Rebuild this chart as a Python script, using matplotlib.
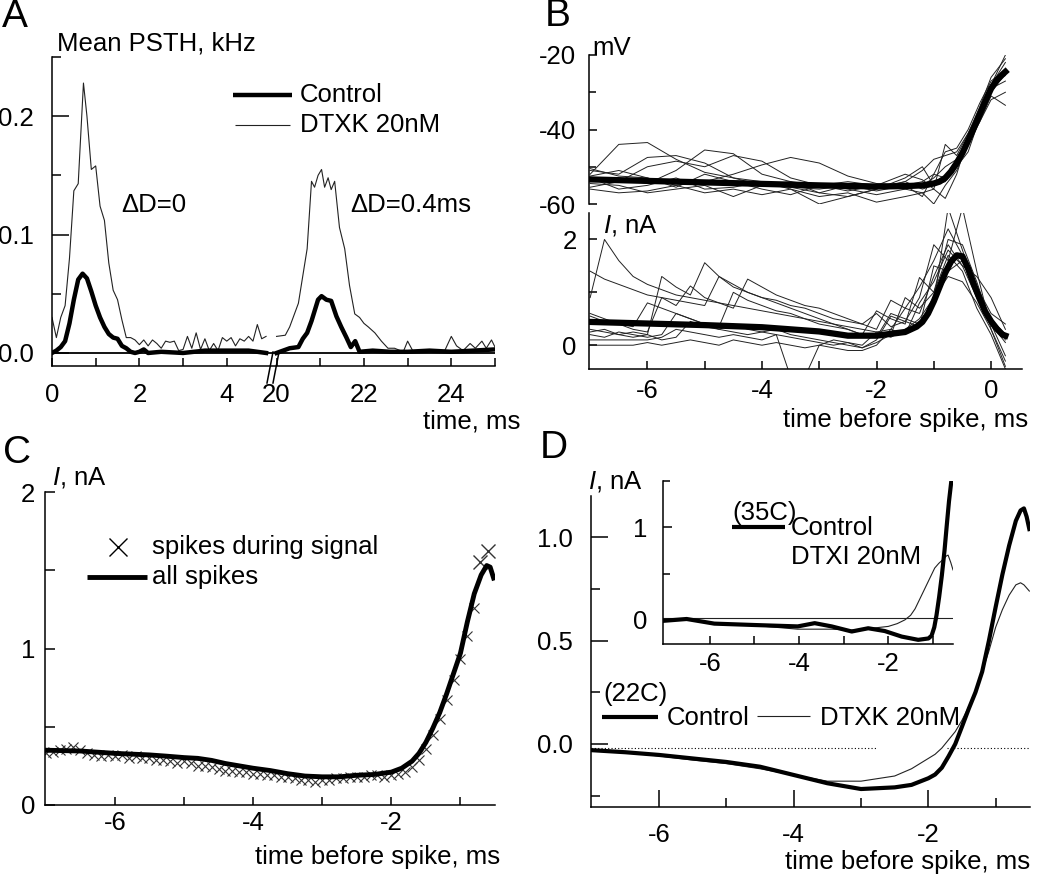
import numpy as np
import matplotlib.pyplot as plt
from matplotlib.lines import Line2D

plt.rcParams['font.family'] = ['Liberation Sans', 'DejaVu Sans']
plt.rcParams['font.size'] = 18.5
plt.rcParams['mathtext.fontset'] = 'custom'
plt.rcParams['mathtext.it'] = 'Liberation Sans:italic'
plt.rcParams['mathtext.rm'] = 'Liberation Sans'
plt.rcParams['axes.linewidth'] = 1.1

# ---------------- data ----------------
# A: mean PSTH (kHz); two time windows, 0-5 ms and 20-25 ms
a_t1 = [0.0, 0.1, 0.2, 0.3, 0.4, 0.5, 0.6, 0.72, 0.8, 0.9, 1.0, 1.1, 1.2, 1.3, 1.4, 1.5, 1.6, 1.7,
        1.8, 1.9, 2.0, 2.1, 2.2, 2.3, 2.4, 2.5, 2.6, 2.7, 2.8, 2.9, 3.0, 3.1, 3.2, 3.3, 3.4, 3.5,
        3.6, 3.7, 3.8, 3.9, 4.0, 4.1, 4.2, 4.3, 4.4, 4.5, 4.6, 4.7, 4.8, 4.9]
a_dtx1 = [0.03, 0.013, 0.03, 0.04, 0.08, 0.137, 0.143, 0.228, 0.2, 0.155, 0.158, 0.124, 0.112, 0.076,
          0.053, 0.045, 0.028, 0.013, 0.013, 0.011, 0.007, 0.011, 0.006, 0.011, 0.008, 0.004, 0.01,
          0.009, 0.01, 0.002, 0.003, 0.014, 0.004, 0.017, 0.003, 0.012, 0.002, 0.008, 0.002, 0.013,
          0.01, 0.013, 0.006, 0.012, 0.01, 0.014, 0.01, 0.024, 0.012, 0.014]
a_tc1 = [0.0, 0.1, 0.2, 0.3, 0.4, 0.5, 0.6, 0.7, 0.8, 0.9, 1.0, 1.1, 1.2, 1.3, 1.4, 1.5, 1.6, 1.7,
         1.8, 1.9, 2.0, 2.1, 2.2, 2.5, 3.0, 3.5, 4.0, 4.5, 4.9]
a_ctrl1 = [0.0, 0.002, 0.005, 0.01, 0.025, 0.045, 0.062, 0.067, 0.063, 0.052, 0.04, 0.03, 0.022,
           0.016, 0.013, 0.012, 0.006, 0.004, 0.001, 0.0, 0.001, 0.003, 0.0, 0.001, 0.0, 0.002,
           0.002, 0.002, 0.0]
a_t2 = [20.0, 20.2, 20.3, 20.5, 20.6, 20.7, 20.8, 20.87, 20.95, 21.03, 21.1, 21.18, 21.25, 21.33,
        21.44, 21.56, 21.67, 21.79, 21.9, 22.0, 22.1, 22.25, 22.4, 22.55, 22.7, 22.9, 23.0, 23.13,
        23.35, 23.6, 23.85, 24.0, 24.12, 24.27, 24.43, 24.55, 24.7, 24.8, 24.92, 25.0]
a_dtx2 = [0.014, 0.015, 0.022, 0.042, 0.065, 0.088, 0.145, 0.14, 0.15, 0.155, 0.14, 0.148, 0.138,
          0.145, 0.106, 0.088, 0.057, 0.033, 0.03, 0.025, 0.022, 0.017, 0.01, 0.004, 0.004, 0.001,
          0.01, 0.001, 0.002, 0.001, 0.002, 0.014, 0.006, 0.002, 0.008, 0.004, 0.01, 0.004, 0.011,
          0.005]
a_tc2 = [20.0, 20.3, 20.5, 20.6, 20.7, 20.8, 20.95, 21.03, 21.14, 21.25, 21.37, 21.48, 21.6, 21.7,
         21.8, 21.9, 22.2, 22.6, 23.0, 23.5, 24.0, 24.5, 25.0]
a_ctrl2 = [0.0, 0.004, 0.005, 0.012, 0.017, 0.027, 0.045, 0.048, 0.045, 0.044, 0.031, 0.022, 0.013,
           0.005, 0.01, 0.001, 0.002, 0.001, 0.001, 0.002, 0.001, 0.002, 0.003]
BREAK_AT = 5.14  # where 20 ms sits on the compressed axis

# B: voltage (mV) and current (nA) before spikes
b_mean_t = [-7, -6, -5, -4, -3, -2, -1.5, -1.2, -1.0, -0.9, -0.8, -0.7, -0.6, -0.5, -0.4, -0.3,
            -0.2, -0.1, 0.0, 0.1, 0.2, 0.25]
b_mean_v = [-53.4, -53.8, -54.2, -54.6, -55.0, -55.3, -55.2, -55.0, -54.5, -54.0, -53.0, -51.3,
            -49.0, -46.3, -43.0, -39.6, -36.0, -32.4, -29.0, -26.8, -25.2, -24.5]
b_v_t = [-7, -6.5, -6, -5.5, -5, -4.5, -4, -3.5, -3, -2.5, -2, -1.5, -1.2, -1.0, -0.8, -0.6,
         -0.4, -0.2, 0, 0.25]
b_v_traces = [
    [-52.0, -44.0, -43.5, -48.0, -51.5, -53.0, -54.0, -55.5, -56.0, -55.0, -55.5, -54.0, -51.0, -48.0, -47.0, -46.0, -41.0, -35.0, -28.0, -22.0],
    [-54.0, -53.0, -54.5, -51.0, -45.5, -46.5, -52.0, -54.0, -55.0, -56.5, -55.0, -56.0, -57.0, -60.0, -55.0, -51.0, -44.0, -37.0, -30.0, -25.0],
    [-50.5, -52.5, -53.0, -55.0, -54.0, -52.0, -49.5, -47.5, -49.0, -52.5, -54.5, -55.0, -54.0, -52.0, -46.0, -45.0, -40.0, -33.0, -27.0, -24.0],
    [-55.5, -54.0, -50.0, -48.5, -50.0, -47.0, -48.5, -53.0, -55.0, -56.0, -57.5, -56.0, -55.0, -53.0, -50.0, -48.0, -44.0, -38.0, -31.0, -33.5],
    [-51.0, -52.0, -47.5, -47.0, -49.0, -53.0, -55.0, -54.0, -57.0, -58.0, -56.0, -53.0, -50.0, -55.0, -52.5, -48.0, -43.0, -36.0, -29.0, -27.0],
    [-53.0, -56.0, -55.0, -53.0, -56.0, -55.5, -54.0, -56.0, -60.0, -58.0, -56.0, -54.0, -56.0, -55.0, -54.0, -50.0, -46.0, -37.0, -28.0, -20.0],
    [-56.0, -57.0, -56.5, -55.0, -57.0, -56.0, -57.5, -56.0, -58.0, -57.0, -59.5, -58.0, -57.0, -56.0, -58.5, -52.0, -42.0, -35.0, -28.0, -25.5],
    [-52.5, -51.0, -53.0, -55.5, -52.0, -54.0, -56.0, -57.5, -55.0, -54.0, -55.0, -52.0, -53.5, -56.0, -44.0, -47.0, -41.0, -34.0, -26.0, -21.0],
    [-54.5, -55.0, -57.0, -56.0, -55.0, -58.0, -55.0, -55.5, -57.0, -55.0, -56.5, -55.0, -58.0, -52.0, -53.0, -49.5, -43.0, -38.0, -32.0, -30.0],
]
b_i_mean_t = [-7, -6, -5, -4, -3, -2.5, -2, -1.5, -1.3, -1.2, -1.1, -1.0, -0.9, -0.8, -0.7, -0.6,
              -0.5, -0.4, -0.3, -0.2, -0.1, 0.0, 0.1, 0.2, 0.25]
b_i_mean = [0.44, 0.41, 0.38, 0.34, 0.26, 0.18, 0.18, 0.25, 0.35, 0.44, 0.6, 0.83, 1.1, 1.37, 1.58,
            1.7, 1.68, 1.45, 1.15, 0.88, 0.63, 0.45, 0.31, 0.2, 0.18]
b_i_t = [-7.0, -6.75, -6.5, -6.25, -6.0, -5.75, -5.5, -5.25, -5.0, -4.75, -4.5, -4.25, -4.0, -3.75,
         -3.5, -3.25, -3.0, -2.75, -2.5, -2.25, -2.0, -1.75, -1.5, -1.25, -1.0, -0.75, -0.5, -0.25,
         0.0, 0.25]
b_i_traces = [
    [0.9, 2.0, 1.6, 1.3, 1.15, 1.05, 0.95, 0.9, 0.85, 0.8, 0.75, 0.7, 0.65, 0.6, 0.55, 0.5, 0.45, 0.4, 0.35, 0.3, 0.25, 0.3, 0.7, 1.1, 1.6, 2.2, 1.7, 1.1, 0.6, 0.4],
    [1.4, 1.25, 1.15, 1.05, 0.95, 0.9, 0.85, 0.8, 0.75, 1.3, 1.1, 1.0, 0.9, 0.85, 0.75, 0.7, 0.6, 0.5, 0.45, 0.4, 0.6, 0.35, 0.45, 0.9, 1.9, 1.6, 2.6, 1.4, 0.3, -0.3],
    [0.55, 0.45, 0.4, 0.3, 0.25, 0.9, 0.75, 1.12, 0.9, 0.8, 0.7, 1.25, 1.1, 0.95, 0.85, 0.75, 0.7, 0.6, 0.5, 0.4, 0.3, 0.85, 0.7, 0.6, 1.3, 1.9, 1.5, 0.9, 0.5, 0.2],
    [0.3, 0.25, 0.2, 0.25, 0.2, 1.3, 1.1, 0.95, 1.56, 1.3, 1.15, 1.0, 0.9, 0.8, 0.7, 0.6, 0.5, 0.4, 0.3, 0.2, 0.65, 0.5, 0.4, 1.28, 1.0, 1.7, 1.4, 0.7, 0.2, -0.45],
    [0.2, 0.15, 0.25, 0.2, 0.15, 0.2, 0.6, 0.5, 0.4, 0.35, 1.0, 0.85, 0.75, 0.65, 0.6, 0.5, 0.4, 0.35, 0.3, 0.2, 0.15, 0.6, 0.5, 0.4, 0.8, 2.6, 1.8, 1.0, 0.5, 0.1],
    [0.6, 0.5, 0.4, 0.35, 0.8, 0.7, 0.6, 0.5, 0.4, 0.3, 0.25, 0.2, 0.25, 0.3, 0.2, 0.15, 0.1, 0.05, 0.0, -0.05, 0.05, 0.2, 0.9, 0.7, 1.0, 2.0, 1.9, 1.2, 0.4, -0.2],
    [0.1, 0.1, 0.1, 0.1, 0.1, 0.15, 0.3, 0.25, 0.2, 0.15, 0.2, 0.15, 0.1, 0.2, -0.6, -0.6, 0.0, -0.05, -0.1, -0.1, 0.0, 0.3, 0.2, 0.8, 1.2, 1.8, 1.5, 1.3, 0.9, 0.3],
    [0.25, 0.3, 0.2, 0.15, 0.2, 0.1, 0.15, 0.45, 0.35, 0.3, 0.4, 0.3, 0.25, 0.2, 0.15, 0.1, 0.05, 0.0, 0.05, -0.05, 0.1, 0.55, 0.45, 0.35, 1.5, 1.4, 1.6, 0.9, 0.4, 0.05],
    [0.0, 0.0, 0.0, 0.0, 0.05, 0.0, 0.05, 0.1, 0.05, 0.0, 0.1, 0.05, 0.0, 0.05, 0.0, -0.05, 0.0, 0.1, 0.05, 0.0, 0.25, 0.15, 0.3, 0.5, 0.9, 1.3, 1.2, 0.8, 0.3, -0.4],
]

# C: spike-triggered current, all spikes vs spikes during signal
c_t = [-7.0, -6.5, -6.0, -5.5, -5.25, -5.0, -4.8, -4.6, -4.4, -4.2, -4.0, -3.75, -3.5, -3.25,
       -3.0, -2.75, -2.5, -2.25, -2.0, -1.85, -1.7, -1.6, -1.5, -1.4, -1.3, -1.2, -1.1, -1.0,
       -0.9, -0.8, -0.7, -0.62, -0.57, -0.52]
c_all = [0.35, 0.345, 0.33, 0.32, 0.312, 0.303, 0.298, 0.285, 0.265, 0.25, 0.235, 0.22, 0.20,
         0.185, 0.18, 0.18, 0.19, 0.195, 0.21, 0.235, 0.28, 0.33, 0.40, 0.49, 0.59, 0.71, 0.84,
         0.97, 1.17, 1.35, 1.47, 1.53, 1.52, 1.45]
c_sig_t = [-7.0, -6.9, -6.8, -6.7, -6.6, -6.5, -6.4, -6.3, -6.2, -6.1, -6.0, -5.9, -5.8, -5.7,
           -5.6, -5.5, -5.4, -5.3, -5.2, -5.1, -5.0, -4.9, -4.8, -4.7, -4.6, -4.5, -4.4, -4.3,
           -4.2, -4.1, -4.0, -3.9, -3.8, -3.7, -3.6, -3.5, -3.4, -3.3, -3.2, -3.1, -3.0, -2.9,
           -2.8, -2.7, -2.6, -2.5, -2.4, -2.3, -2.2, -2.1, -2.0, -1.9, -1.8, -1.7, -1.6, -1.5,
           -1.4, -1.3, -1.2, -1.1, -1.0, -0.9, -0.8]
c_sig = [0.33, 0.34, 0.35, 0.36, 0.37, 0.35, 0.33, 0.32, 0.31, 0.32, 0.31, 0.32, 0.30, 0.31,
         0.30, 0.30, 0.29, 0.29, 0.28, 0.27, 0.28, 0.27, 0.25, 0.25, 0.24, 0.23, 0.22, 0.22,
         0.21, 0.21, 0.20, 0.20, 0.19, 0.19, 0.18, 0.18, 0.17, 0.16, 0.16, 0.15, 0.16, 0.16,
         0.17, 0.17, 0.18, 0.18, 0.18, 0.19, 0.19, 0.18, 0.19, 0.20, 0.21, 0.24, 0.29, 0.36,
         0.45, 0.55, 0.67, 0.80, 0.93, 1.08, 1.26]
c_sig_end_t = [-0.71, -0.6]
c_sig_end = [1.55, 1.62]

# D: 22C main panel, 35C inset
d_t = [-7.0, -6.5, -6.0, -5.5, -5.0, -4.5, -4.0, -3.5, -3.0, -2.5, -2.25, -2.0, -1.9, -1.8,
       -1.7, -1.6, -1.5, -1.4, -1.3, -1.2, -1.1, -1.0, -0.9, -0.8, -0.7, -0.63, -0.58, -0.54,
       -0.5]
d_ctrl = [-0.03, -0.04, -0.053, -0.07, -0.087, -0.11, -0.15, -0.19, -0.218, -0.21, -0.198,
          -0.166, -0.148, -0.115, -0.06, 0.0, 0.084, 0.17, 0.25, 0.35, 0.5, 0.663, 0.82, 0.96,
          1.08, 1.13, 1.14, 1.1, 1.04]
d_dtx = [-0.03, -0.042, -0.058, -0.078, -0.095, -0.12, -0.15, -0.18, -0.18, -0.155, -0.12,
         -0.07, -0.05, -0.02, 0.02, 0.06, 0.115, 0.18, 0.26, 0.35, 0.45, 0.565, 0.65, 0.72,
         0.77, 0.78, 0.77, 0.755, 0.74]
d_ref_level = -0.02
i_t = [-7.05, -6.52, -5.9, -5.0, -4.03, -3.65, -3.27, -2.82, -2.45, -2.08, -1.7, -1.33, -1.1,
       -1.03, -0.97, -0.92, -0.86, -0.8, -0.74, -0.69, -0.64, -0.58]
i_ctrl = [-0.01, 0.01, -0.04, -0.055, -0.07, -0.035, -0.07, -0.125, -0.09, -0.12, -0.18, -0.215,
          -0.2, -0.17, -0.08, 0.05, 0.25, 0.48, 0.75, 1.02, 1.28, 1.53]
i_dtx_t = [-7.05, -6.52, -5.9, -5.0, -4.03, -3.27, -2.82, -2.37, -2.0, -1.8, -1.63, -1.5, -1.4,
           -1.3, -1.18, -1.07, -0.96, -0.87, -0.78, -0.7, -0.66, -0.6, -0.55]
i_dtx = [-0.01, 0.01, -0.04, -0.06, -0.1, -0.1, -0.11, -0.09, -0.07, -0.04, 0.0, 0.05, 0.12,
         0.22, 0.34, 0.45, 0.56, 0.61, 0.65, 0.69, 0.7, 0.62, 0.54]
i_ref_level = 0.025

# ---------------- layout helpers (pixel coords of the 1050x875 figure) ----------------
W, H = 1050, 875


def box(l, t, r, b):
    return [l / W, 1 - b / H, (r - l) / W, (b - t) / H]


def ftext(x, y, s, **kw):
    kw.setdefault('va', 'center')
    fig.text(x / W, 1 - y / H, s, **kw)


def fline(x0, x1, y, lw, color='black'):
    fig.add_artist(Line2D([x0 / W, x1 / W], [1 - y / H, 1 - y / H], lw=lw, color=color,
                          transform=fig.transFigure, solid_capstyle='butt'))


def style(ax, xpad, ypad, xlen, ylen, xminlen=None, yminlen=None):
    for s in ['top', 'right']:
        ax.spines[s].set_visible(False)
    ax.set_facecolor('none')
    ax.tick_params(axis='x', which='major', direction='in', length=xlen, width=1.1, pad=xpad)
    ax.tick_params(axis='x', which='minor', direction='in', length=xminlen or xlen, width=1.1)
    ax.tick_params(axis='y', which='major', direction='in', length=ylen, width=1.1, pad=ypad)
    ax.tick_params(axis='y', which='minor', direction='in', length=yminlen or ylen, width=1.1)


THICK = 'black'
THIN = '#222222'

fig = plt.figure(figsize=(10.5, 8.75), dpi=100)

# ---------------- A ----------------
axA = fig.add_axes(box(52, 57, 495, 366))
u2 = np.array(a_t2) - 20 + BREAK_AT
uc2 = np.array(a_tc2) - 20 + BREAK_AT
axA.axhline(0, color='black', lw=1.3)
axA.plot(a_t1, a_dtx1, color=THIN, lw=0.8)
axA.plot(u2, a_dtx2, color=THIN, lw=0.8)
axA.plot(a_tc1, a_ctrl1, color=THICK, lw=3.2)
axA.plot(uc2, a_ctrl2, color=THICK, lw=3.2)
axA.set_xlim(0, 10.14)
axA.set_ylim(-0.011, 0.25)
style(axA, 12, 13, 6, 12, 6, 6.5)
axA.set_xticks([0, 2, 4, BREAK_AT, BREAK_AT + 2, BREAK_AT + 4], ['0', '2', '4', '20', '22', '24'])
axA.set_xticks([1, 3, BREAK_AT + 1, BREAK_AT + 3, BREAK_AT + 5], minor=True)
axA.set_yticks([0, 0.1, 0.2], ['0.0', '0.1', '0.2'])
axA.set_yticks([0.05, 0.15, 0.25], minor=True)
for dx in (0, 6):
    fig.add_artist(Line2D([(267 + dx) / W, (273 + dx) / W], [1 - 383 / H, 1 - 352 / H],
                          lw=1.1, color='black', transform=fig.transFigure))

ftext(2, 17, 'A', fontsize=28)
ftext(57, 43, 'Mean PSTH, kHz')
fline(233, 292, 95, 3.2)
ftext(300, 95, 'Control')
fline(235, 290, 125, 0.8, THIN)
ftext(300, 125, 'DTXK 20nM')
ftext(121, 205, '\u0394D=0')
ftext(350, 205, '\u0394D=0.4ms')
ftext(520, 422, 'time, ms', ha='right')

# ---------------- B ----------------
axB1 = fig.add_axes(box(589, 55, 1022, 204))
for tr in b_v_traces:
    axB1.plot(b_v_t, tr, color=THIN, lw=0.7)
axB1.plot(b_mean_t, b_mean_v, color=THICK, lw=4.5)
axB1.set_xlim(-7.02, 0.54)
axB1.set_ylim(-60, -20)
style(axB1, 6, 9, 6, 6, 6, 5)
axB1.spines['bottom'].set_visible(False)
axB1.set_xticks([])
axB1.set_yticks([-60, -40, -20], ['-60', '-40', '-20'])
axB1.set_yticks([-50, -30], minor=True)

axB2 = fig.add_axes(box(589, 213, 1022, 369))
for tr in b_i_traces:
    axB2.plot(b_i_t, tr, color=THIN, lw=0.7)
axB2.plot(b_i_mean_t, b_i_mean, color=THICK, lw=4.5)
axB2.set_xlim(-7.02, 0.54)
axB2.set_ylim(-0.45, 2.5)
style(axB2, 7, 9, 6, 6, 6, 6)
axB2.set_xticks([-6, -4, -2, 0], ['-6', '-4', '-2', '0'])
axB2.set_xticks([-5, -3, -1], minor=True)
axB2.set_yticks([0, 2], ['0', '2'])
axB2.set_yticks([1], minor=True)

ftext(545, 16, 'B', fontsize=28)
ftext(592, 48, 'mV')
ftext(603, 226, '$I$, nA')
ftext(1028, 420, 'time before spike, ms', ha='right')

# ---------------- C ----------------
axC = fig.add_axes(box(45, 492, 495, 805))
axC.plot(c_sig_t, c_sig, ls='none', marker='x', ms=7, mew=0.8, color='#333333')
axC.plot(c_sig_end_t, c_sig_end, ls='none', marker='x', ms=10, mew=1.0, color='#333333')
axC.plot(c_t, c_all, color=THICK, lw=3.5)
axC.set_xlim(-7.01, -0.5)
axC.set_ylim(0, 2)
style(axC, 4, 7, 6, 7, 6, 7)
axC.set_xticks([-6, -4, -2], ['-6', '-4', '-2'])
axC.set_xticks([-5, -3, -1], minor=True)
axC.set_yticks([0, 1, 2], ['0', '1', '2'])
axC.set_yticks([0.5, 1.5], minor=True)

ftext(3, 453, 'C', fontsize=28)
ftext(52, 477, '$I$, nA')
fig.add_artist(Line2D([118 / W], [1 - 547 / H], ls='none', marker='x', ms=13, mew=1.0,
                      color='black', transform=fig.transFigure))
ftext(152, 547, 'spikes during signal')
fline(87, 147, 577, 3.5)
ftext(152, 577, 'all spikes')
ftext(500, 857, 'time before spike, ms', ha='right')

# ---------------- D ----------------
axD = fig.add_axes(box(591, 496, 1030, 807))
axD.plot([-7.01, -2.77], [d_ref_level, d_ref_level], color='black', lw=0.8, ls=(0, (1, 2)))
axD.plot([-1.73, -0.49], [d_ref_level, d_ref_level], color='black', lw=0.8, ls=(0, (1, 2)))
axD.plot(d_t, d_dtx, color=THIN, lw=0.8)
axD.plot(d_t, d_ctrl, color=THICK, lw=3.0)
axD.set_xlim(-7.01, -0.49)
axD.set_ylim(-0.305, 1.2)
style(axD, 11.5, 13, 12, 12, 6.5, 6.5)
axD.set_xticks([-6, -4, -2], ['-6', '-4', '-2'])
axD.set_xticks([-5, -3, -1], minor=True)
axD.set_yticks([0, 0.5, 1.0], ['0.0', '0.5', '1.0'])
axD.set_yticks([-0.25, 0.25, 0.75], minor=True)

axI = fig.add_axes(box(663, 481, 953, 644))
axI.plot([-7.05, -0.55], [i_ref_level, i_ref_level], color=THIN, lw=0.8)
axI.plot(i_dtx_t, i_dtx, color=THIN, lw=0.8)
axI.plot(i_t, i_ctrl, color=THICK, lw=3.0)
axI.set_xlim(-7.05, -0.55)
axI.set_ylim(-0.26, 1.5)
style(axI, 6, 11, 6, 6.5, 6, 5)
axI.set_xticks([-6, -4, -2], ['-6', '-4', '-2'])
axI.set_xticks([-5, -3, -1], minor=True)
axI.set_yticks([0, 1], ['0', '1'])
axI.set_yticks([0.5, 1.5], minor=True)

ftext(540, 448, 'D', fontsize=28)
ftext(588, 481, '$I$, nA')
ftext(732, 513, '(35C)')
fline(732, 785, 527, 3.0)
ftext(791, 528, 'Control')
ftext(791, 557, 'DTXI 20nM')
ftext(603, 694, '(22C)')
fline(602, 658, 717, 3.0)
ftext(667, 718, 'Control')
fline(757, 810, 716, 0.8, THIN)
ftext(820, 718, 'DTXK 20nM')
ftext(1030, 862, 'time before spike, ms', ha='right')

fig.savefig('out.png', dpi=100)
